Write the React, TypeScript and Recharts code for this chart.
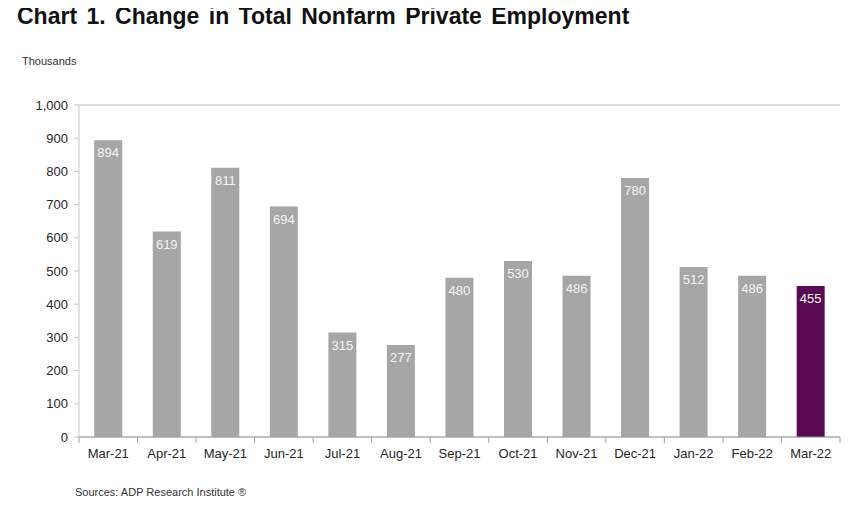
import React from 'react';
import { BarChart, Bar, XAxis, YAxis, CartesianGrid, LabelList, Cell } from 'recharts';

const months = ['Mar-21', 'Apr-21', 'May-21', 'Jun-21', 'Jul-21', 'Aug-21', 'Sep-21', 'Oct-21', 'Nov-21', 'Dec-21', 'Jan-22', 'Feb-22', 'Mar-22'];
const changes = [894, 619, 811, 694, 315, 277, 480, 530, 486, 780, 512, 486, 455];
const yTicks = [0, 100, 200, 300, 400, 500, 600, 700, 800, 900, 1000];

const data = months.map((month, i) => ({ month, value: changes[i] }));

const W = 865;
const H = 512;
const PLOT_LEFT = 79;
const PLOT_RIGHT = 840;
const PLOT_TOP = 105;
const PLOT_BOTTOM = 437;
const BAND = (PLOT_RIGHT - PLOT_LEFT) / months.length;
const FONT = 'Arial, "Liberation Sans", sans-serif';

const XTick = (props: any) => {
  const { x, payload, index } = props;
  const isLast = index === months.length - 1;
  return (
    <g>
      <line x1={x - BAND / 2} x2={x - BAND / 2} y1={PLOT_BOTTOM} y2={PLOT_BOTTOM + 6} stroke="#a0a0a0" />
      {isLast && <line x1={x + BAND / 2} x2={x + BAND / 2} y1={PLOT_BOTTOM} y2={PLOT_BOTTOM + 6} stroke="#a0a0a0" />}
      <text x={x} y={PLOT_BOTTOM + 21} textAnchor="middle" fill="#262626" fontSize={13} fontFamily={FONT}>
        {payload.value}
      </text>
    </g>
  );
};

const fmt = (v: number) => v.toLocaleString('en-US');

export default function App() {
  return (
    <div style={{ position: 'relative', width: W, height: H, margin: -8, background: '#fff', fontFamily: FONT }}>
      <div style={{ position: 'absolute', left: 17, top: 3, fontSize: 23, fontWeight: 'bold', color: '#111', wordSpacing: 3, whiteSpace: 'nowrap' }}>
        Chart 1. Change in Total Nonfarm Private Employment
      </div>
      <div style={{ position: 'absolute', left: 22, top: 55, fontSize: 11, color: '#333' }}>Thousands</div>
      <div style={{ position: 'absolute', left: 75, top: 486, fontSize: 11, color: '#333' }}>Sources: ADP Research Institute ®</div>
      <BarChart
        width={W}
        height={H}
        data={data}
        margin={{ top: PLOT_TOP, right: W - PLOT_RIGHT, bottom: 0, left: 0 }}
        barCategoryGap="26%"
      >
        <CartesianGrid vertical={false} stroke="#d4d4d4" strokeWidth={1.5} />
        <XAxis
          dataKey="month"
          axisLine={{ stroke: '#a0a0a0' }}
          tickLine={false}
          tick={<XTick />}
          interval={0}
          height={H - PLOT_BOTTOM}
        />
        <YAxis
          yAxisId="left"
          width={PLOT_LEFT}
          domain={[0, 1000]}
          ticks={yTicks}
          tickFormatter={fmt}
          axisLine={{ stroke: '#c8c8c8' }}
          tickLine={{ stroke: '#c8c8c8' }}
          tickSize={5}
          tickMargin={6}
          tick={{ fill: '#262626', fontSize: 13, fontFamily: FONT }}
          interval={0}
        />
        <YAxis
          yAxisId="right"
          orientation="right"
          width={0}
          domain={[0, 1000]}
          tick={false}
          tickLine={false}
          axisLine={{ stroke: '#d4d4d4', strokeWidth: 1.5 }}
        />
        <Bar yAxisId="left" dataKey="value" isAnimationActive={false}>
          {data.map((d, i) => (
            <Cell key={d.month} fill={i === data.length - 1 ? '#5a0a52' : '#a6a6a6'} />
          ))}
          <LabelList dataKey="value" position="insideTop" offset={8} fill="#f4f4f4" fontSize={13} fontFamily={FONT} />
        </Bar>
      </BarChart>
    </div>
  );
}
